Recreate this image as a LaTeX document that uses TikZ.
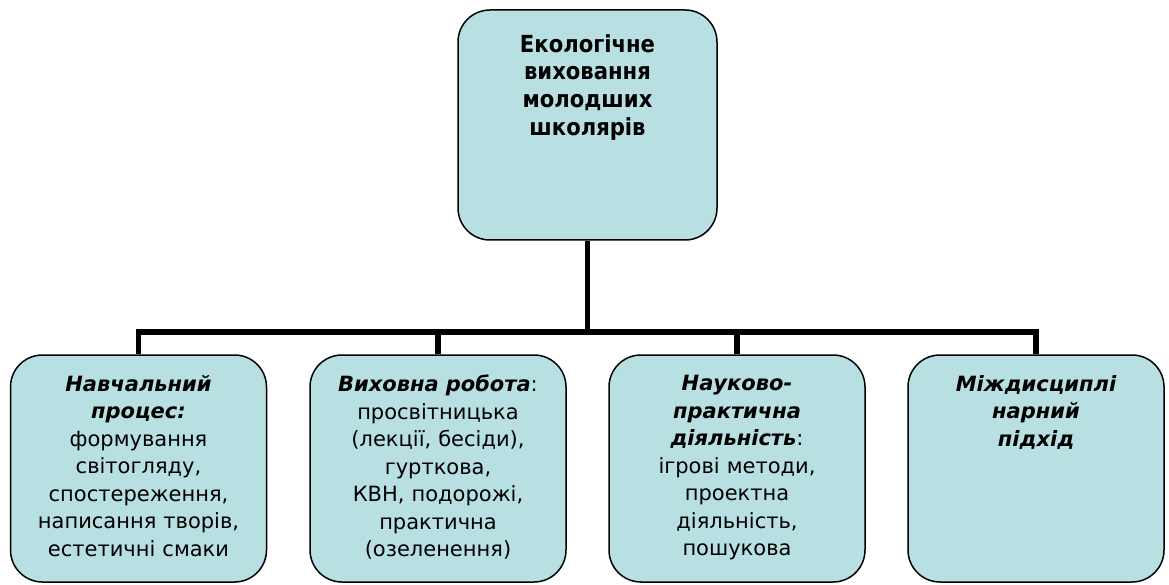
\documentclass[tikz,border=0pt]{standalone}
\usepackage{fontspec}
\setmainfont{DejaVu Sans}
\newfontfamily\topfont{DejaVu Sans Condensed}
\definecolor{boxfill}{RGB}{184,224,227}
\begin{document}
\begin{tikzpicture}[x=1pt,y=-1pt,
  box/.style={draw=black, line width=1.5pt, fill=boxfill, rounded corners=32pt,
    minimum width=256pt, minimum height=227pt, inner sep=0pt},
  topbox/.style={box, minimum width=259pt, minimum height=230pt},
  lbl/.style={text width=252pt, align=center, inner sep=0pt, anchor=north,
    font=\fontsize{21}{27.5}\selectfont},
  toplbl/.style={lbl, font=\topfont\fontsize{23.5}{27.7}\selectfont\bfseries},
  conn/.style={line width=5.5pt, line join=miter, draw=black}]
\useasboundingbox (0,0) rectangle (1169,585);
\node[topbox] (top) at (587.5,125) {};
\node[box] (b1) at (138.5,468.5) {};
\node[box] (b2) at (438,468.5) {};
\node[box] (b3) at (737,468.5) {};
\node[box] (b4) at (1036,468.5) {};
\coordinate (bar) at (587.5,332);
\draw[conn] (top.south) -- (bar);
\draw[conn] (b1.north) -- (b1.north |- bar) -- (b4.north |- bar) -- (b4.north);
\draw[conn] (b2.north) -- (b2.north |- bar);
\draw[conn] (b3.north) -- (b3.north |- bar);
\node[toplbl] (t0) at (587.5,34) {Екологічне\\ виховання\\ молодших\\ школярів};
\node[lbl] (t1) at (138.5,375) {{\bfseries\itshape Навчальний\\ процес:}\\ формування\\ світогляду,\\ спостереження,\\ написання творів,\\ естетичні смаки};
\node[lbl] (t2) at (438,375) {{\bfseries\itshape Виховна робота}:\\ просвітницька\\ (лекції, бесіди),\\ гурткова,\\ КВН, подорожі,\\ практична\\ (озеленення)};
\node[lbl] (t3) at (737,375) {{\bfseries\itshape Науково-\\ практична\\ діяльність}:\\ ігрові методи,\\ проектна\\ діяльність,\\ пошукова};
\node[lbl] (t4) at (1036,375) {{\bfseries\itshape Міждисциплі\\ нарний\\ підхід}};
\end{tikzpicture}
\end{document}
